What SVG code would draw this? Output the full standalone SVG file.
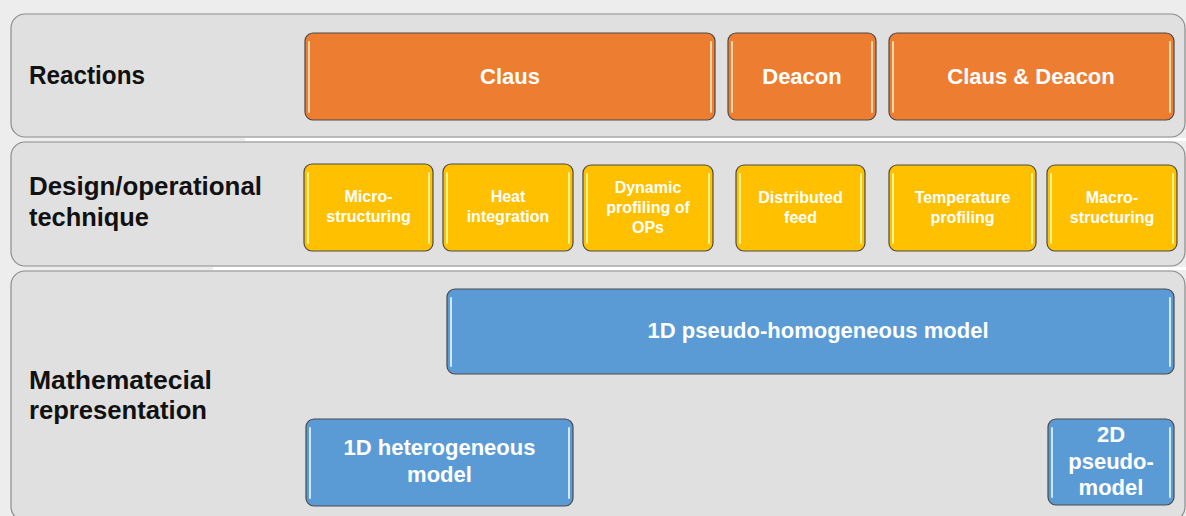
<svg xmlns="http://www.w3.org/2000/svg" width="1186" height="516" viewBox="0 0 1186 516">
  <style>
    .panel { fill: #e0e0e0; stroke: #8c8c8c; stroke-width: 1.2; }
    .label { font-family: "Liberation Sans", Arial, sans-serif; font-weight: bold; font-size: 25px; fill: #111111; }
    .box { stroke: #4a4a4a; stroke-width: 1.2; }
    .orange { fill: #ed7d31; }
    .yellow { fill: #ffc000; }
    .blue { fill: #5b9bd5; }
    .hl-o { stroke: #ffd6a8; stroke-width: 2; stroke-linecap: round; }
    .hl-y { stroke: #fff48a; stroke-width: 2; stroke-linecap: round; }
    .hl-b { stroke: #cfe8ff; stroke-width: 2; stroke-linecap: round; }
    .t { font-family: "Liberation Sans", Arial, sans-serif; font-weight: bold; fill: #ffffff; text-anchor: middle; }
    .big { font-size: 22px; }
    .small { font-size: 16px; }
  </style>

  <!-- page background -->
  <rect x="0" y="0" width="1186" height="516" fill="#ededed"/>
  <rect x="245" y="138" width="941" height="3" fill="#ffffff"/>
  <rect x="213" y="267" width="973" height="3" fill="#ffffff"/>

  <!-- row panels -->
  <g id="panel-reactions">
    <rect class="panel" x="11" y="14" width="1174" height="123" rx="14"/>
    <text class="label" x="29" y="84" textLength="116" lengthAdjust="spacingAndGlyphs">Reactions</text>
  </g>
  <g id="panel-design">
    <rect class="panel" x="11" y="142" width="1174" height="124" rx="14"/>
    <text class="label" x="29" y="195" textLength="233" lengthAdjust="spacingAndGlyphs">Design/operational</text>
    <text class="label" x="29" y="226" textLength="120" lengthAdjust="spacingAndGlyphs">technique</text>
  </g>
  <g id="panel-math">
    <rect class="panel" x="11" y="271" width="1174" height="250" rx="14"/>
    <text class="label" x="29" y="389" textLength="183" lengthAdjust="spacingAndGlyphs">Mathematecial</text>
    <text class="label" x="29" y="419" textLength="178" lengthAdjust="spacingAndGlyphs">representation</text>
  </g>

  <!-- reactions -->
  <g id="claus">
    <rect class="box orange" x="305" y="33" width="410" height="87" rx="8"/>
    <line class="hl-o" x1="309" y1="42" x2="309" y2="112"/>
    <line class="hl-o" x1="711" y1="42" x2="711" y2="112"/>
    <text class="t big" x="510" y="84">Claus</text>
  </g>
  <g id="deacon">
    <rect class="box orange" x="728" y="33" width="148" height="87" rx="8"/>
    <line class="hl-o" x1="732" y1="42" x2="732" y2="112"/>
    <line class="hl-o" x1="872" y1="42" x2="872" y2="112"/>
    <text class="t big" x="802" y="84">Deacon</text>
  </g>
  <g id="claus-deacon">
    <rect class="box orange" x="889" y="33" width="285" height="87" rx="8"/>
    <line class="hl-o" x1="893" y1="42" x2="893" y2="112"/>
    <line class="hl-o" x1="1170" y1="42" x2="1170" y2="112"/>
    <text class="t big" x="1031" y="84">Claus &amp; Deacon</text>
  </g>

  <!-- design / operational techniques -->
  <g id="micro-structuring">
    <rect class="box yellow" x="304" y="164" width="129" height="87" rx="8"/>
    <line class="hl-y" x1="308" y1="173" x2="308" y2="243"/>
    <line class="hl-y" x1="429" y1="173" x2="429" y2="243"/>
    <text class="t small" x="368.5" y="202">Micro-</text>
    <text class="t small" x="368.5" y="222">structuring</text>
  </g>
  <g id="heat-integration">
    <rect class="box yellow" x="443" y="164" width="130" height="87" rx="8"/>
    <line class="hl-y" x1="447" y1="173" x2="447" y2="243"/>
    <line class="hl-y" x1="569" y1="173" x2="569" y2="243"/>
    <text class="t small" x="508" y="202">Heat</text>
    <text class="t small" x="508" y="222">integration</text>
  </g>
  <g id="dynamic-profiling">
    <rect class="box yellow" x="583" y="165" width="130" height="86" rx="8"/>
    <line class="hl-y" x1="587" y1="174" x2="587" y2="243"/>
    <line class="hl-y" x1="709" y1="174" x2="709" y2="243"/>
    <text class="t small" x="648" y="193">Dynamic</text>
    <text class="t small" x="648" y="213">profiling of</text>
    <text class="t small" x="648" y="233">OPs</text>
  </g>
  <g id="distributed-feed">
    <rect class="box yellow" x="736" y="165" width="129" height="86" rx="8"/>
    <line class="hl-y" x1="740" y1="174" x2="740" y2="243"/>
    <line class="hl-y" x1="861" y1="174" x2="861" y2="243"/>
    <text class="t small" x="800.5" y="203">Distributed</text>
    <text class="t small" x="800.5" y="223">feed</text>
  </g>
  <g id="temperature-profiling">
    <rect class="box yellow" x="889" y="165" width="147" height="86" rx="8"/>
    <line class="hl-y" x1="893" y1="174" x2="893" y2="243"/>
    <line class="hl-y" x1="1032" y1="174" x2="1032" y2="243"/>
    <text class="t small" x="962.5" y="203">Temperature</text>
    <text class="t small" x="962.5" y="223">profiling</text>
  </g>
  <g id="macro-structuring">
    <rect class="box yellow" x="1047" y="165" width="130" height="86" rx="8"/>
    <line class="hl-y" x1="1051" y1="174" x2="1051" y2="243"/>
    <line class="hl-y" x1="1173" y1="174" x2="1173" y2="243"/>
    <text class="t small" x="1112" y="203">Macro-</text>
    <text class="t small" x="1112" y="223">structuring</text>
  </g>

  <!-- mathematical models -->
  <g id="pseudo-homogeneous-1d">
    <rect class="box blue" x="447" y="289" width="727" height="85" rx="8"/>
    <line class="hl-b" x1="451" y1="298" x2="451" y2="366"/>
    <line class="hl-b" x1="1170" y1="298" x2="1170" y2="366"/>
    <text class="t big" x="818" y="338">1D pseudo-homogeneous model</text>
  </g>
  <g id="heterogeneous-1d">
    <rect class="box blue" x="306" y="419" width="267" height="87" rx="8"/>
    <line class="hl-b" x1="310" y1="428" x2="310" y2="498"/>
    <line class="hl-b" x1="569" y1="428" x2="569" y2="498"/>
    <text class="t big" x="439.5" y="455">1D heterogeneous</text>
    <text class="t big" x="439.5" y="482">model</text>
  </g>
  <g id="pseudo-2d">
    <rect class="box blue" x="1048" y="419" width="126" height="86" rx="8"/>
    <line class="hl-b" x1="1052" y1="428" x2="1052" y2="497"/>
    <line class="hl-b" x1="1170" y1="428" x2="1170" y2="497"/>
    <text class="t big" x="1111" y="442">2D</text>
    <text class="t big" x="1111" y="469">pseudo-</text>
    <text class="t big" x="1111" y="495">model</text>
  </g>

  <!-- no connectors in this figure -->
  <g id="connectors"/>
</svg>
